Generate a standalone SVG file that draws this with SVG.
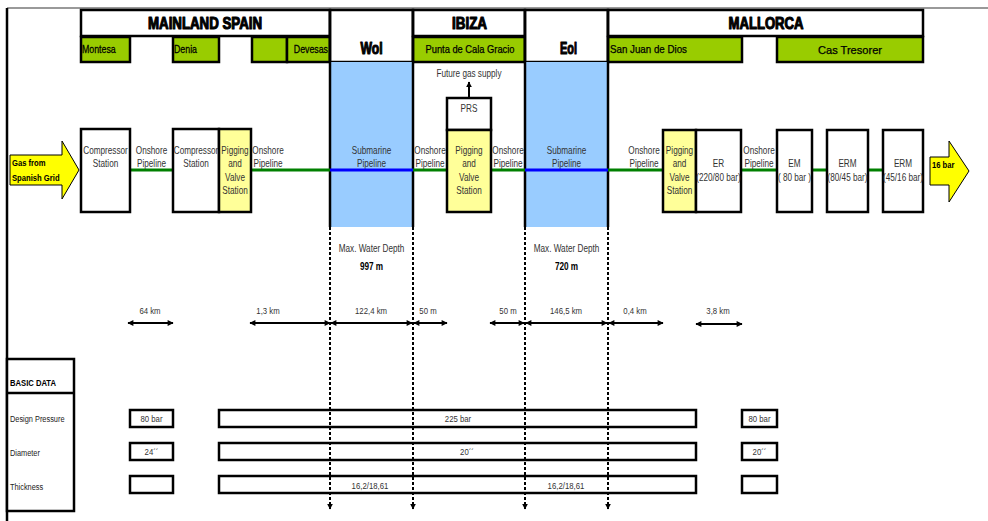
<svg xmlns="http://www.w3.org/2000/svg" width="988" height="521" viewBox="0 0 988 521">
<defs>
<marker id="ah" viewBox="0 0 10 10" refX="9" refY="5" markerWidth="7" markerHeight="6" orient="auto-start-reverse" markerUnits="userSpaceOnUse"><path d="M0,0 L10,5 L0,10 z" fill="#000"/></marker>
<marker id="dh" viewBox="0 0 10 10" refX="9" refY="5" markerWidth="6" markerHeight="6" orient="auto" markerUnits="userSpaceOnUse"><path d="M0,0 L10,5 L0,10 z" fill="#000"/></marker>
<style>
.t{font-family:"Liberation Sans",Arial,sans-serif;font-size:10px;fill:#333;text-anchor:middle}
.s9{font-size:9.5px}
.tl{font-family:"Liberation Sans",Arial,sans-serif;font-size:9px;fill:#222}
.b{font-weight:bold;fill:#000}
.box{fill:#fff;stroke:#000;stroke-width:2.5}
.nf{fill:none}
.pig{fill:#FFFF99;stroke:#000;stroke-width:2.5}
.grn{fill:#99CC00;stroke:#000;stroke-width:2.5}
.sea{fill:#99CCFF}
.hdr{font-family:"Liberation Sans",Arial,sans-serif;font-weight:900;font-size:16px;text-anchor:middle;fill:#000;stroke:#000;stroke-width:1.1;stroke-linejoin:round}
.gl{font-family:"Liberation Sans",Arial,sans-serif;font-size:11px;fill:#000;stroke:#000;stroke-width:0.25}
.on{stroke:#008000;stroke-width:3}
.sub{stroke:#0000FF;stroke-width:3}
.dim{stroke:#000;stroke-width:2;marker-start:url(#ah);marker-end:url(#ah)}
.dash{stroke:#000;stroke-width:2;stroke-dasharray:3 2;marker-end:url(#dh)}
.wall{stroke:#000;stroke-width:2.5}
.arr{fill:#FFFF00;stroke:#000;stroke-width:1}
</style>
</defs>
<rect width="988" height="521" fill="#fff"/>
<line x1="7" y1="8" x2="988" y2="8" stroke="#777" stroke-width="1.5"/>
<line x1="7" y1="8" x2="7" y2="521" stroke="#000" stroke-width="2.5"/>

<g id="hdr-mainland">
<rect class="box" x="81" y="10" width="249" height="26"/>
<text class="hdr" x="205" y="29" textLength="114" lengthAdjust="spacingAndGlyphs">MAINLAND SPAIN</text>
<rect class="grn" x="81" y="37" width="49" height="25"/><text class="gl" transform="matrix(.8 0 0 1 82 53)">Montesa</text>
<rect class="grn" x="173" y="37" width="46" height="25"/><text class="gl" transform="matrix(.8 0 0 1 174 53)">Denia</text>
<rect class="grn" x="252" y="37" width="35" height="25"/>
<rect class="grn" x="287" y="37" width="43" height="25"/><text class="gl" text-anchor="end" transform="matrix(.8 0 0 1 328 53)">Devesas</text>
</g>
<g id="hdr-wol">
<rect class="box" x="330" y="10" width="83" height="52"/>
<text class="hdr" x="371.5" y="54" font-size="14" textLength="22" lengthAdjust="spacingAndGlyphs">Wol</text>
</g>
<g id="hdr-ibiza">
<rect class="box" x="413" y="10" width="112" height="26"/>
<text class="hdr" x="469.5" y="29" textLength="35" lengthAdjust="spacingAndGlyphs">IBIZA</text>
<rect class="grn" x="413" y="37" width="112" height="25"/>
<text class="gl" x="470" y="53" text-anchor="middle" textLength="89" lengthAdjust="spacingAndGlyphs">Punta de Cala Gracio</text>
</g>
<g id="hdr-eol">
<rect class="box" x="525" y="10" width="83" height="52"/>
<text class="hdr" x="568.5" y="54" font-size="14" textLength="17" lengthAdjust="spacingAndGlyphs">Eol</text>
</g>
<g id="hdr-mallorca">
<rect class="box" x="608" y="10" width="315" height="26"/>
<text class="hdr" x="766" y="29" textLength="75" lengthAdjust="spacingAndGlyphs">MALLORCA</text>
<rect class="grn" x="608" y="37" width="134" height="25"/>
<text class="gl" x="610" y="53" textLength="77" lengthAdjust="spacingAndGlyphs">San Juan de Dios</text>
<rect class="grn" x="777" y="37" width="146" height="25"/>
<text class="gl" x="850" y="54" text-anchor="middle" font-size="13" textLength="64" lengthAdjust="spacingAndGlyphs">Cas Tresorer</text>
</g>

<g id="sea-wol">
<rect class="sea" x="330" y="62" width="83" height="165"/>
<line class="wall" x1="330" y1="10" x2="330" y2="227"/>
<line class="wall" x1="413" y1="10" x2="413" y2="227"/>
<text class="t" transform="matrix(.82 0 0 1 371.5 154)">Submarine</text><text class="t" transform="matrix(.82 0 0 1 371.5 167)">Pipeline</text>
<text class="t" transform="matrix(.82 0 0 1 371.5 252)">Max. Water Depth</text>
<text class="t b" transform="matrix(.82 0 0 1 371.5 270)">997 m</text>
</g>
<g id="sea-eol">
<rect class="sea" x="525" y="62" width="83" height="165"/>
<line class="wall" x1="525" y1="10" x2="525" y2="227"/>
<line class="wall" x1="608" y1="10" x2="608" y2="227"/>
<text class="t" transform="matrix(.82 0 0 1 566.5 154)">Submarine</text><text class="t" transform="matrix(.82 0 0 1 566.5 167)">Pipeline</text>
<text class="t" transform="matrix(.82 0 0 1 566.5 252)">Max. Water Depth</text>
<text class="t b" transform="matrix(.82 0 0 1 566.5 270)">720 m</text>
</g>

<g id="connectors">
<line class="on" x1="130" y1="170" x2="173" y2="170"/>
<line class="on" x1="251" y1="170" x2="330" y2="170"/>
<line class="sub" x1="330" y1="170" x2="413" y2="170"/>
<line class="on" x1="413" y1="170" x2="447" y2="170"/>
<line class="on" x1="491" y1="170" x2="525" y2="170"/>
<line class="sub" x1="525" y1="170" x2="608" y2="170"/>
<line class="on" x1="608" y1="170" x2="663" y2="170"/>
<line class="on" x1="741" y1="170" x2="777" y2="170"/>
<line class="on" x1="812" y1="170" x2="827" y2="170"/>
<line class="on" x1="868" y1="170" x2="883" y2="170"/>
<line x1="469" y1="98" x2="469" y2="82" stroke="#000" stroke-width="2" marker-end="url(#dh)"/>
<line class="dash" x1="330" y1="227" x2="330" y2="509"/>
<line class="dash" x1="413" y1="227" x2="413" y2="509"/>
<line class="dash" x1="525" y1="227" x2="525" y2="509"/>
<line class="dash" x1="608" y1="227" x2="608" y2="509"/>
<line class="dim" x1="128" y1="323" x2="173" y2="323"/>
<line class="dim" x1="250" y1="323" x2="330" y2="323"/>
<line class="dim" x1="331" y1="323" x2="412" y2="323"/>
<line class="dim" x1="414" y1="323" x2="447" y2="323"/>
<line class="dim" x1="490" y1="323" x2="524" y2="323"/>
<line class="dim" x1="526" y1="323" x2="607" y2="323"/>
<line class="dim" x1="609" y1="323" x2="663" y2="323"/>
<line class="dim" x1="696" y1="324" x2="742" y2="324"/>
</g>

<g id="labels-onshore">
<text class="t" transform="matrix(.82 0 0 1 151.5 154)">Onshore</text><text class="t" transform="matrix(.82 0 0 1 151.5 167)">Pipeline</text>
<text class="t" transform="matrix(.82 0 0 1 268 154)">Onshore</text><text class="t" transform="matrix(.82 0 0 1 268 167)">Pipeline</text>
<text class="t" transform="matrix(.82 0 0 1 430 154)">Onshore</text><text class="t" transform="matrix(.82 0 0 1 430 167)">Pipeline</text>
<text class="t" transform="matrix(.82 0 0 1 508 154)">Onshore</text><text class="t" transform="matrix(.82 0 0 1 508 167)">Pipeline</text>
<text class="t" transform="matrix(.82 0 0 1 644 154)">Onshore</text><text class="t" transform="matrix(.82 0 0 1 644 167)">Pipeline</text>
<text class="t" transform="matrix(.82 0 0 1 759 154)">Onshore</text><text class="t" transform="matrix(.82 0 0 1 759 167)">Pipeline</text>
</g>

<g id="gas-in">
<path class="arr" d="M10,155 L62,155 L62,141 L79,170 L62,199 L62,185 L10,185 z"/>
<text class="tl b" transform="matrix(.85 0 0 1 12 166)">Gas from</text>
<text class="tl b" transform="matrix(.85 0 0 1 12 181)">Spanish Grid</text>
</g>
<g id="compressor-1">
<rect class="box" x="81" y="129" width="49" height="83"/>
<text class="t" transform="matrix(.82 0 0 1 105.5 154)">Compressor</text><text class="t" transform="matrix(.82 0 0 1 105.5 167)">Station</text>
</g>
<g id="compressor-2">
<rect class="box" x="173" y="129" width="46" height="83"/>
<text class="t" transform="matrix(.82 0 0 1 196 154)">Compressor</text><text class="t" transform="matrix(.82 0 0 1 196 167)">Station</text>
</g>
<g id="pig-denia">
<rect class="pig" x="219" y="129" width="32" height="83"/>
<text class="t" transform="matrix(.82 0 0 1 235 154)">Pigging</text><text class="t" transform="matrix(.82 0 0 1 235 167)">and</text><text class="t" transform="matrix(.82 0 0 1 235 181)">Valve</text><text class="t" transform="matrix(.82 0 0 1 235 194)">Station</text>
</g>
<g id="prs">
<rect class="box" x="447" y="98" width="44" height="32"/>
<text class="t" transform="matrix(.82 0 0 1 469 112)">PRS</text>
<text class="t" fill="#111" transform="matrix(.82 0 0 1 469 77)">Future gas supply</text>
</g>
<g id="pig-ibiza">
<rect class="pig" x="447" y="130" width="44" height="82"/>
<text class="t" transform="matrix(.82 0 0 1 469 154)">Pigging</text><text class="t" transform="matrix(.82 0 0 1 469 167)">and</text><text class="t" transform="matrix(.82 0 0 1 469 181)">Valve</text><text class="t" transform="matrix(.82 0 0 1 469 194)">Station</text>
</g>
<g id="pig-mallorca">
<rect class="pig" x="663" y="130" width="33" height="82"/>
<text class="t" transform="matrix(.82 0 0 1 679.5 154)">Pigging</text><text class="t" transform="matrix(.82 0 0 1 679.5 167)">and</text><text class="t" transform="matrix(.82 0 0 1 679.5 181)">Valve</text><text class="t" transform="matrix(.82 0 0 1 679.5 194)">Station</text>
</g>
<g id="er">
<rect class="box" x="696" y="130" width="45" height="82"/>
<text class="t" transform="matrix(.82 0 0 1 718.5 167)">ER</text><text class="t" transform="matrix(.82 0 0 1 718.5 181)">(220/80 bar)</text>
</g>
<g id="em">
<rect class="box" x="777" y="130" width="35" height="82"/>
<text class="t" transform="matrix(.82 0 0 1 794.5 167)">EM</text><text class="t" transform="matrix(.82 0 0 1 794.5 181)">( 80 bar )</text>
</g>
<g id="erm-1">
<rect class="box" x="827" y="130" width="41" height="82"/>
<text class="t" transform="matrix(.82 0 0 1 847.5 167)">ERM</text><text class="t" transform="matrix(.82 0 0 1 847.5 181)">(80/45 bar)</text>
</g>
<g id="erm-2">
<rect class="box" x="883" y="130" width="40" height="82"/>
<text class="t" transform="matrix(.82 0 0 1 903 167)">ERM</text><text class="t" transform="matrix(.82 0 0 1 903 181)">(45/16 bar)</text>
</g>
<g id="gas-out">
<path class="arr" d="M930,157 L949,157 L949,141 L969,171 L949,202 L949,185 L930,185 z"/>
<text class="tl b" transform="matrix(.85 0 0 1 932 168)">16 bar</text>
</g>

<g id="distances">
<text class="t s9" transform="matrix(.82 0 0 1 150 314)">64 km</text>
<text class="t s9" transform="matrix(.82 0 0 1 268 314)">1,3 km</text>
<text class="t s9" transform="matrix(.82 0 0 1 371 314)">122,4 km</text>
<text class="t s9" transform="matrix(.82 0 0 1 428 314)">50 m</text>
<text class="t s9" transform="matrix(.82 0 0 1 508 314)">50 m</text>
<text class="t s9" transform="matrix(.82 0 0 1 566 314)">146,5 km</text>
<text class="t s9" transform="matrix(.82 0 0 1 635 314)">0,4 km</text>
<text class="t s9" transform="matrix(.82 0 0 1 718 314)">3,8 km</text>
</g>

<g id="basic-data">
<rect x="7" y="359" width="67" height="152" fill="#fff" stroke="#000" stroke-width="2.5"/>
<line x1="7" y1="393" x2="74" y2="393" stroke="#000" stroke-width="2.5"/>
<text class="tl b" font-size="8.5" transform="matrix(.85 0 0 1 10 386)">BASIC DATA</text>
<text class="tl" transform="matrix(.82 0 0 1 10 422)">Design Pressure</text>
<text class="tl" transform="matrix(.82 0 0 1 10 456)">Diameter</text>
<text class="tl" transform="matrix(.82 0 0 1 10 490)">Thickness</text>
</g>
<g id="data-onshore-spain">
<rect class="box" x="130" y="410" width="43" height="17"/><text class="t s9" transform="matrix(.82 0 0 1 151.5 422)">80 bar</text>
<rect class="box" x="130" y="443" width="43" height="17"/><text class="t s9" transform="matrix(.82 0 0 1 151.5 455)">24´´</text>
<rect class="box" x="130" y="476" width="43" height="17"/>
</g>
<g id="data-main">
<rect class="box nf" x="219" y="410" width="477" height="17"/><text class="t s9" transform="matrix(.82 0 0 1 458 422)">225 bar</text>
<rect class="box nf" x="219" y="443" width="477" height="17"/><text class="t s9" transform="matrix(.82 0 0 1 467 455)">20´´</text>
<rect class="box nf" x="219" y="476" width="477" height="17"/>
<text class="t s9" transform="matrix(.82 0 0 1 370 489)">16,2/18,61</text>
<text class="t s9" transform="matrix(.82 0 0 1 566 489)">16,2/18,61</text>
</g>
<g id="data-onshore-mallorca">
<rect class="box" x="742" y="410" width="35" height="17"/><text class="t s9" transform="matrix(.82 0 0 1 759.5 422)">80 bar</text>
<rect class="box" x="742" y="443" width="35" height="17"/><text class="t s9" transform="matrix(.82 0 0 1 759.5 455)">20´´</text>
<rect class="box" x="742" y="476" width="35" height="17"/>
</g>
</svg>
